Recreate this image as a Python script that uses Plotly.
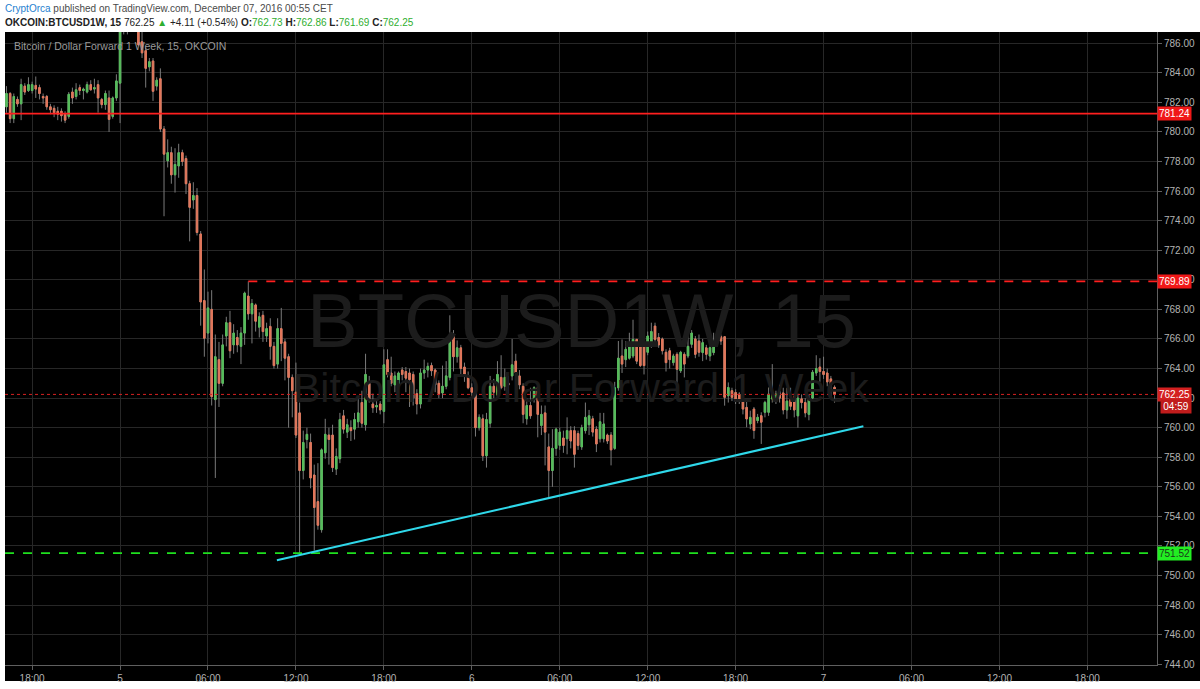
import plotly.graph_objects as go
import pandas as pd

COLORS = {
    "up": "#56bd5b",
    "down": "#e2775b",
    "wick": "#7a7a7a",
    "grid": "#272727",
    "axis": "#5f5f5f",
    "tick": "#b4b4b4",
    "res": "#ff1f1f",
    "last": "#d62020",
    "support": "#1fe01f",
    "trend": "#2fd8ea",
    "water": "#1c1c1c",
}
FONT = "Liberation Sans, Arial, sans-serif"

# 15 minute bars, OKCOIN BTCUSD 1W, first bar 2016-12-04 16:15
START = "2016-12-04 16:15"

opens = [
    # Dec 4, 16:15 - 23:45
    781.7, 782.6, 780.9, 782.2, 781.9, 783.1, 782.8, 782.8, 783.15, 783.0,
    782.4, 782.4, 781.7, 781.6, 781.4, 781.4, 781.2, 781.05, 782.7, 782.4,
    783.0, 782.8, 782.7, 783.2, 782.9, 783.2, 782.2, 781.85, 782.3, 781.05,
    782.3,
    # Dec 5
    783.3, 788.0, 787.0, 788.3, 789.2, 787.4, 786.1, 785.5, 784.4, 784.8,
    783.1, 783.6, 780.2, 778.05, 778.6, 777.1, 777.7, 778.6, 778.2, 776.5,
    775.4, 775.7, 773.1, 768.6, 766.4, 768.0, 761.9, 764.6, 763.0, 766.2,
    767.1, 765.6, 766.1, 765.5, 766.4, 768.9, 767.7, 768.3, 766.8, 767.6,
    766.2, 766.85, 765.5, 764.3, 766.7, 765.8, 764.8, 763.4, 762.4, 761.0,
    757.1, 759.2, 759.0, 756.8, 755.0, 753.1, 758.3, 759.5, 759.5, 757.2,
    757.9, 760.8, 759.7, 760.0, 759.9, 760.4, 761.7, 760.2, 763.0, 761.6,
    761.4, 761.6, 761.1, 764.6, 763.7, 762.9, 762.9, 763.9, 763.8, 763.7,
    763.6, 762.3, 761.6, 763.7, 763.9, 764.2, 763.9, 763.0, 762.35, 762.8,
    763.4, 766.2, 764.8, 765.4, 764.1, 763.5,
    # Dec 6
    762.7, 762.35, 760.0, 760.6, 758.1, 760.3, 762.8, 762.2, 763.4, 762.8,
    763.0, 763.5, 764.5, 763.5, 762.8, 760.6, 761.5, 761.9, 762.7, 760.15,
    761.0, 758.7, 757.1, 758.6, 758.8, 759.3, 759.25, 759.8, 759.8, 759.6,
    758.7, 759.8, 760.2, 760.6, 759.9, 759.25, 759.25, 759.5, 759.5, 758.6,
    762.7, 764.85, 764.6, 764.7, 764.85, 765.97, 765.75, 765.75, 765.1, 765.64,
    766.87, 766.1, 766.0, 765.1, 765.2, 764.4, 764.96, 763.85, 764.96, 764.85,
    765.64, 766.0, 765.86, 765.08, 765.4, 764.85, 765.08, 765.75, 766.15, 766.15,
    762.16, 762.5, 762.38, 762.27, 761.82, 761.37, 760.25, 761.26, 760.48, 760.81,
    761.04, 761.04, 761.94, 761.94, 762.45, 762.35, 761.2, 761.9, 762.1, 760.8,
    761.95, 761.7, 760.9, 762.0, 763.7, 764.1,
    # Dec 7
    763.8, 763.7, 763.3, 762.73,
]

highs = [
    783.1, 782.7, 782.6, 782.4, 783.6, 783.3, 783.7, 783.4, 783.75, 783.2,
    782.6, 782.5, 781.9, 781.8, 781.7, 781.6, 781.4, 782.7, 783.0, 783.3,
    783.2, 783.0, 783.4, 783.5, 783.6, 783.5, 782.3, 782.8, 782.8, 782.4,
    783.9,
    789.0, 789.5, 788.8, 790.0, 789.6, 787.9, 786.8, 785.7, 785.0, 785.0,
    783.7, 784.3, 780.4, 779.5, 779.0, 778.9, 779.2, 778.8, 778.4, 776.7,
    776.6, 776.2, 773.3, 770.7, 769.2, 769.3, 766.3, 765.8, 766.3, 767.5,
    767.9, 767.0, 766.6, 766.8, 769.2, 769.89, 768.7, 768.4, 767.8, 767.9,
    767.1, 767.4, 765.8, 767.4, 768.1, 766.0, 765.0, 763.6, 764.4, 761.7,
    759.8, 760.0, 759.6, 757.5, 757.6, 758.6, 760.6, 760.0, 760.2, 758.6,
    761.0, 761.2, 760.6, 760.5, 761.0, 762.0, 762.5, 765.0, 763.5, 762.3,
    761.8, 761.8, 765.3, 765.3, 764.8, 763.8, 763.8, 764.1, 764.1, 764.0,
    763.8, 762.6, 764.0, 764.6, 764.4, 764.4, 764.0, 763.2, 764.2, 764.5,
    767.6, 766.6, 765.9, 765.6, 764.4, 763.8,
    763.0, 762.6, 760.9, 760.9, 761.0, 763.5, 763.3, 764.5, 764.9, 764.0,
    763.5, 766.0, 765.0, 763.9, 763.0, 762.0, 762.7, 762.8, 762.8, 761.5,
    761.5, 759.6, 759.9, 760.0, 760.0, 759.8, 760.7, 760.1, 760.1, 759.8,
    760.2, 761.7, 761.2, 760.8, 760.1, 761.0, 761.0, 759.6, 759.7, 763.1,
    765.86, 765.97, 765.86, 766.42, 767.3, 766.0, 765.97, 765.9, 766.5, 767.1,
    767.1, 766.4, 766.1, 765.3, 765.4, 765.0, 765.1, 765.2, 765.1, 766.4,
    766.6, 766.2, 766.3, 766.0, 765.6, 765.7, 766.42, 766.2, 766.3, 766.2,
    763.06, 762.7, 762.6, 762.4, 761.94, 761.82, 761.15, 761.4, 760.93, 761.04,
    761.82, 762.72, 764.3, 762.5, 762.9, 762.7, 762.7, 762.7, 762.3, 762.3,
    762.25, 762.0, 762.25, 763.9, 764.9, 764.7,
    764.8, 764.0, 763.5, 762.86,
]

lows = [
    781.3, 780.6, 780.6, 781.7, 780.8, 782.5, 782.7, 782.6, 782.3, 782.2,
    781.9, 781.5, 781.2, 781.0, 780.8, 780.7, 780.6, 780.9, 781.9, 782.2,
    782.5, 782.2, 782.6, 782.8, 782.6, 781.3, 781.6, 781.5, 780.0, 780.9,
    782.1,
    780.6, 786.6, 786.6, 787.6, 787.3, 785.8, 785.0, 783.0, 784.1, 782.1,
    782.8, 780.0, 774.3, 777.6, 776.5, 775.9, 776.9, 777.7, 775.8, 772.6,
    774.8, 773.0, 766.9, 764.8, 765.7, 761.5, 756.6, 761.4, 762.8, 765.5,
    764.7, 765.0, 765.1, 764.3, 765.6, 767.3, 765.7, 766.5, 766.1, 765.8,
    765.8, 764.6, 764.0, 764.0, 764.5, 763.2, 760.0, 760.7, 759.3, 751.52,
    756.5, 758.6, 755.9, 751.7, 753.1, 752.9, 757.9, 757.5, 757.0, 756.8,
    757.6, 759.6, 759.3, 759.1, 759.2, 760.0, 760.0, 759.8, 761.7, 761.0,
    761.0, 760.9, 760.3, 763.4, 762.8, 762.4, 762.3, 763.2, 762.4, 761.4,
    761.5, 760.9, 761.3, 763.3, 763.4, 763.5, 762.4, 762.0, 762.0, 762.6,
    763.2, 763.8, 764.4, 763.6, 763.1, 762.6,
    762.0, 759.4, 759.8, 757.75, 757.3, 760.0, 762.0, 762.0, 762.6, 762.5,
    762.3, 763.2, 763.4, 762.6, 760.3, 760.2, 760.6, 761.7, 759.35, 759.5,
    757.45, 755.3, 756.0, 758.1, 758.5, 758.3, 758.2, 758.6, 757.3, 758.5,
    758.5, 759.6, 759.5, 759.4, 758.35, 759.0, 759.0, 758.9, 757.45, 758.5,
    762.5, 763.7, 764.1, 764.6, 764.7, 764.3, 764.1, 763.6, 764.9, 765.4,
    765.8, 765.4, 764.95, 763.8, 764.0, 764.2, 762.7, 763.7, 763.4, 764.7,
    765.4, 764.7, 764.8, 764.5, 764.6, 764.5, 764.9, 765.5, 765.6, 761.49,
    761.7, 761.8, 761.6, 761.6, 760.9, 760.03, 759.9, 759.25, 760.3, 758.9,
    760.7, 760.8, 761.7, 761.6, 761.7, 760.9, 760.6, 761.2, 760.7, 760.0,
    761.3, 760.7, 760.5, 761.9, 763.5, 763.1,
    763.3, 762.8, 762.1, 761.69,
]

closes = [
    782.6, 780.9, 782.4, 781.9, 783.2, 782.7, 783.2, 783.2, 782.9, 782.6,
    782.3, 781.7, 781.5, 781.3, 781.2, 781.1, 780.8, 782.55, 782.3, 782.85,
    782.8, 782.9, 783.2, 782.85, 783.0, 782.3, 781.85, 782.6, 780.85, 782.3,
    783.45,
    788.0, 787.2, 788.3, 789.2, 787.6, 785.9, 785.35, 784.3, 784.75, 782.75,
    783.5, 780.2, 778.5, 778.6, 777.1, 777.8, 778.6, 778.0, 776.5, 774.9,
    775.7, 773.2, 768.5, 766.05, 768.1, 762.1, 764.8, 763.0, 765.6, 767.1,
    765.2, 766.4, 765.6, 766.4, 769.1, 767.7, 768.4, 767.2, 767.5, 766.5,
    766.7, 765.5, 764.2, 766.7, 765.7, 764.7, 763.4, 762.5, 759.5, 757.1,
    759.0, 759.55, 756.6, 754.6, 753.4, 758.5, 759.55, 759.2, 757.3, 758.05,
    760.55, 759.9, 760.2, 759.8, 760.55, 761.0, 760.3, 763.6, 761.9, 761.35,
    761.5, 761.2, 764.25, 763.6, 763.0, 763.5, 763.7, 763.6, 763.35, 763.25,
    762.0, 761.6, 763.7, 763.9, 764.15, 763.85, 762.9, 762.3, 762.8, 763.5,
    766.15, 764.8, 765.4, 764.0, 763.6, 762.7,
    762.4, 760.0, 760.7, 758.1, 760.55, 762.8, 762.4, 763.6, 762.7, 763.4,
    762.9, 764.25, 763.7, 762.9, 760.9, 761.5, 760.8, 762.7, 760.9, 760.9,
    759.7, 757.1, 758.6, 759.9, 759.7, 758.8, 759.8, 759.1, 758.2, 758.8,
    760.0, 760.7, 760.8, 759.7, 758.9, 760.4, 760.25, 759.1, 758.5, 762.7,
    764.7, 764.3, 765.3, 765.75, 765.97, 764.5, 764.2, 764.2, 766.2, 766.5,
    765.97, 765.6, 765.2, 764.4, 764.6, 764.85, 763.95, 765.1, 764.3, 765.5,
    766.4, 764.96, 765.1, 765.75, 764.96, 765.41, 765.86, 765.97, 765.86, 762.05,
    762.72, 762.05, 761.82, 761.94, 761.26, 760.59, 760.7, 759.81, 760.7, 760.37,
    761.71, 762.27, 762.38, 762.27, 762.0, 761.2, 761.8, 761.45, 761.2, 762.0,
    761.7, 761.0, 762.0, 763.75, 764.0, 763.8,
    763.6, 763.1, 762.9, 762.25,
]

# horizontal levels drawn on the chart
RESISTANCE = 781.24
RANGE_TOP = 769.89
RANGE_TOP_FROM = "2016-12-05 08:45"
LAST_PRICE = 762.25
SUPPORT = 751.52
COUNTDOWN = "04:59"

# rising trend line
trend_times = ["2016-12-05 10:42", "2016-12-07 02:43"]
trend_prices = [751.04, 760.10]

# axes
X_RANGE = ["2016-12-04 16:09", "2016-12-07 22:45"]
Y_RANGE = [743.95, 786.76]
tick_times = pd.date_range("2016-12-04 18:00", "2016-12-07 18:00", freq="6h")
tick_text = ["18:00", "5", "06:00", "12:00", "18:00", "6", "06:00",
             "12:00", "18:00", "7", "06:00", "12:00", "18:00"]

times = pd.date_range(START, periods=len(closes), freq="15min")
body_top = [max(o, c) for o, c in zip(opens, closes)]
body_bot = [min(o, c) for o, c in zip(opens, closes)]

fig = go.Figure()

# wicks (grey) underneath
fig.add_trace(go.Candlestick(
    x=times, open=opens, high=highs, low=lows, close=closes,
    increasing=dict(line=dict(color=COLORS["wick"], width=1), fillcolor=COLORS["wick"]),
    decreasing=dict(line=dict(color=COLORS["wick"], width=1), fillcolor=COLORS["wick"]),
    whiskerwidth=0, hoverinfo="skip", showlegend=False,
))
# coloured bodies on top
fig.add_trace(go.Candlestick(
    x=times, open=opens, high=body_top, low=body_bot, close=closes,
    increasing=dict(line=dict(color=COLORS["up"], width=1), fillcolor=COLORS["up"]),
    decreasing=dict(line=dict(color=COLORS["down"], width=1), fillcolor=COLORS["down"]),
    whiskerwidth=0, hoverinfo="skip", showlegend=False,
))

shapes = [
    # black chart panel incl. axis strips
    dict(type="rect", xref="paper", yref="paper", x0=0, x1=1.04, y0=-0.0251, y1=1,
         fillcolor="#000000", line=dict(width=0), layer="below"),
    dict(type="line", xref="paper", yref="y", x0=0, x1=1, y0=RESISTANCE, y1=RESISTANCE,
         line=dict(color=COLORS["res"], width=1.6)),
    dict(type="line", xref="x", yref="y", x0=RANGE_TOP_FROM, x1=X_RANGE[1],
         y0=RANGE_TOP, y1=RANGE_TOP, line=dict(color=COLORS["res"], width=1.8, dash="dash")),
    dict(type="line", xref="paper", yref="y", x0=0, x1=1, y0=LAST_PRICE, y1=LAST_PRICE,
         line=dict(color=COLORS["last"], width=1, dash="dot")),
    dict(type="line", xref="paper", yref="y", x0=0, x1=1, y0=SUPPORT, y1=SUPPORT,
         line=dict(color=COLORS["support"], width=1.8, dash="dash")),
    dict(type="line", xref="x", yref="y", x0=trend_times[0], x1=trend_times[1],
         y0=trend_prices[0], y1=trend_prices[1], line=dict(color=COLORS["trend"], width=2)),
]

green = "#2fae2f"
header2 = (
    "<b>OKCOIN:BTCUSD1W, 15</b> 762.25 "
    f"<span style='color:{green}'>▲</span> +4.11 (+0.54%) "
    f"<b>O:</b><span style='color:{green}'>762.73</span> "
    f"<b>H:</b><span style='color:{green}'>762.86</span> "
    f"<b>L:</b><span style='color:{green}'>761.69</span> "
    f"<b>C:</b><span style='color:{green}'>762.25</span>"
)

annotations = [
    dict(text="<span style='color:#1f7fcf'>CryptOrca</span> published on TradingView.com, "
              "December 07, 2016 00:55 CET",
         xref="paper", yref="paper", x=0, xshift=-2, y=1.0377, xanchor="left",
         yanchor="middle", showarrow=False, font=dict(size=10, color="#4a4a4a", family=FONT)),
    dict(text=header2, xref="paper", yref="paper", x=0, xshift=-2, y=1.0157,
         xanchor="left", yanchor="middle", showarrow=False,
         font=dict(size=10, color="#222222", family=FONT)),
    dict(text="Bitcoin / Dollar Forward 1 Week, 15, OKCOIN", xref="paper", yref="paper",
         x=0.006, y=0.978, xanchor="left", yanchor="middle", showarrow=False,
         font=dict(size=10.5, color="#9a9a9a", family=FONT)),
    # watermark
    dict(text="BTCUSD1W, 15", xref="paper", yref="paper", x=0.5, y=0.545,
         xanchor="center", yanchor="middle", showarrow=False,
         font=dict(size=76, color=COLORS["water"], family=FONT)),
    dict(text="Bitcoin / Dollar Forward 1 Week", xref="paper", yref="paper", x=0.5, y=0.438,
         xanchor="center", yanchor="middle", showarrow=False,
         font=dict(size=41, color=COLORS["water"], family=FONT)),
]

# price tags on the right scale
for level, bg, fg in [
    (RESISTANCE, "#f01818", "#ffffff"),
    (RANGE_TOP, "#f01818", "#ffffff"),
    (LAST_PRICE, "#d42020", "#ffffff"),
    (SUPPORT, "#22ee22", "#1a3a1a"),
]:
    annotations.append(dict(
        text=f"{level:.2f}", xref="paper", yref="y", x=1, y=level, xanchor="left",
        yanchor="middle", showarrow=False, bgcolor=bg, borderpad=1, width=31,
        font=dict(size=10, color=fg, family=FONT),
    ))
annotations.append(dict(
    text=COUNTDOWN, xref="paper", yref="y", x=1, xshift=3, y=LAST_PRICE, yshift=-12,
    xanchor="left", yanchor="middle", showarrow=False, bgcolor="#c01c1c", borderpad=1,
    width=28, font=dict(size=10, color="#ffffff", family=FONT),
))

fig.update_layout(
    width=1200, height=689,
    margin=dict(l=5, r=38, t=32, b=20),
    paper_bgcolor="#ffffff",
    plot_bgcolor="#000000",
    font=dict(family=FONT, color=COLORS["tick"], size=10),
    showlegend=False,
    hovermode=False,
    boxgap=0.42,
    shapes=shapes,
    annotations=annotations,
    xaxis=dict(
        type="date", range=X_RANGE, tickvals=tick_times, ticktext=tick_text,
        showgrid=True, gridcolor=COLORS["grid"], gridwidth=1, zeroline=False,
        showline=True, linecolor=COLORS["axis"], ticks="outside", ticklen=4,
        tickcolor=COLORS["axis"], tickfont=dict(size=10, color=COLORS["tick"]),
        rangeslider=dict(visible=False),
    ),
    yaxis=dict(
        side="right", range=Y_RANGE, tick0=744, dtick=2, tickformat=".2f",
        showgrid=True, gridcolor=COLORS["grid"], gridwidth=1, zeroline=False,
        showline=True, linecolor=COLORS["axis"], ticks="outside", ticklen=4,
        tickcolor=COLORS["axis"], tickfont=dict(size=10, color=COLORS["tick"]),
    ),
)

# the page body has a default 8px margin; drop it so the figure fills the window
fig.write_html(
    "out.html",
    config={"displayModeBar": False},
    post_script="document.body.style.margin = '0';",
)
